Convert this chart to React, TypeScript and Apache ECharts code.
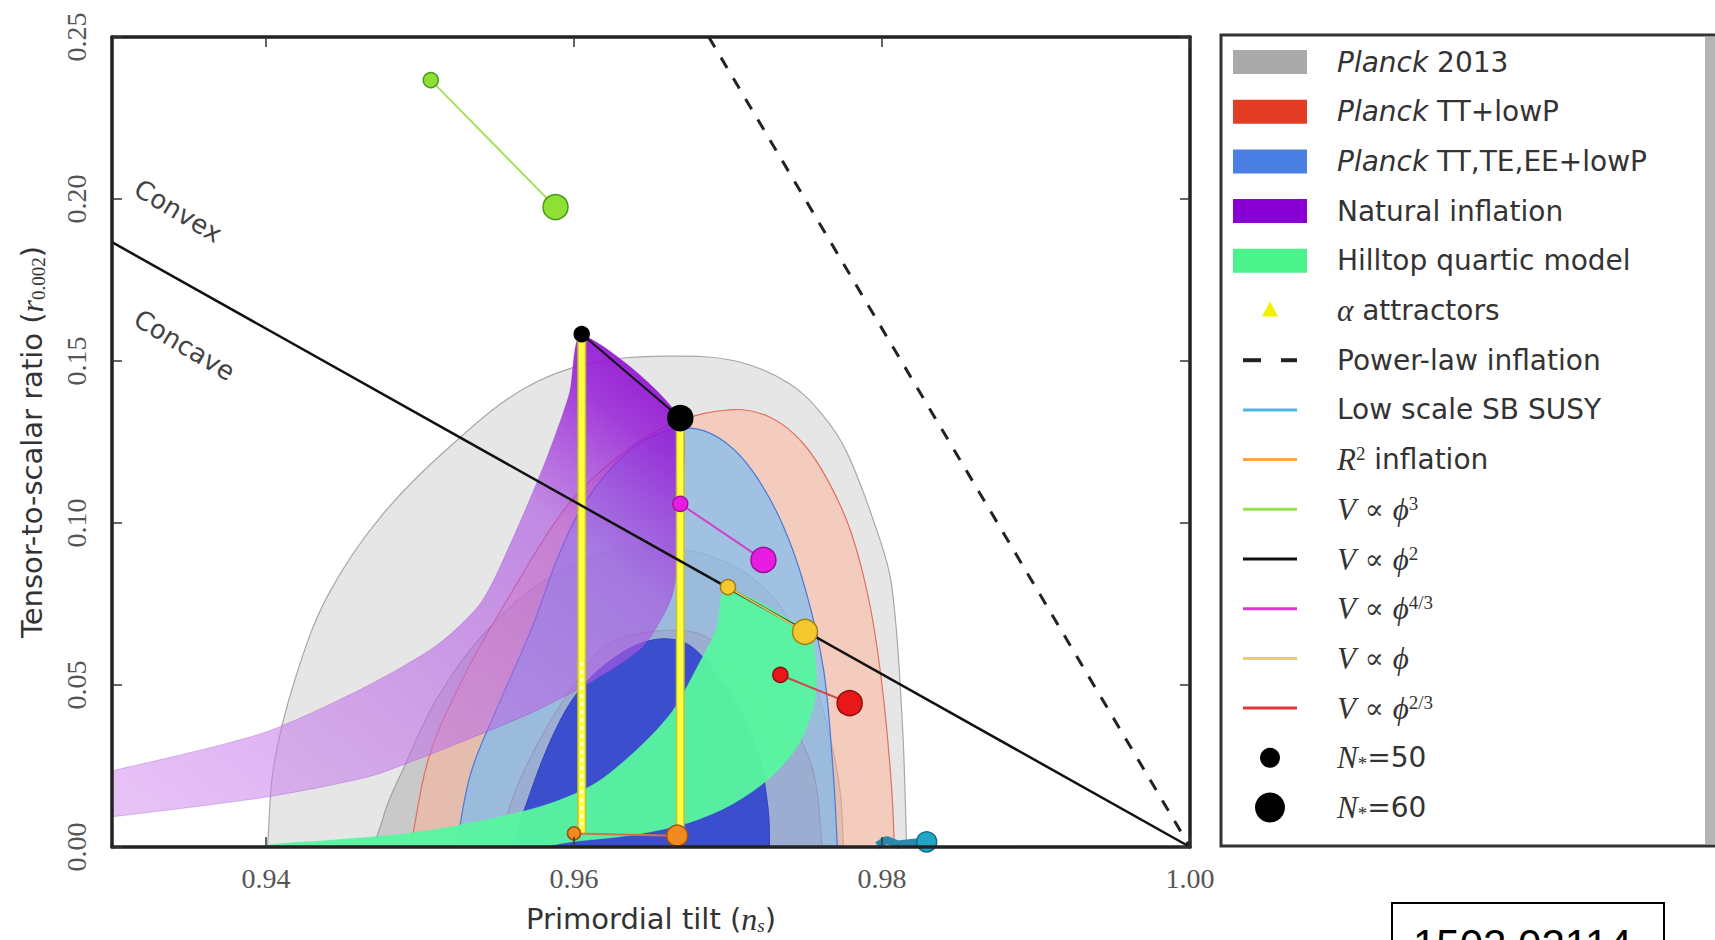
import React, { useEffect, useRef } from 'react';
import * as echarts from 'echarts';

// ---------- data ----------
const X_TICKS = [0.94, 0.96, 0.98, 1.0];
const Y_TICKS = [0, 0.05, 0.1, 0.15, 0.2, 0.25];

// Planck confidence contours [n_s, r]
const planck2013_95 = [[0.9400, -0.006], [0.9401, 0.0], [0.9405, 0.025], [0.9419, 0.052], [0.9440, 0.0775], [0.9476, 0.1028], [0.9526, 0.1264], [0.9568, 0.1416], [0.9611, 0.1494], [0.9660, 0.1515], [0.9705, 0.1500], [0.9740, 0.1430], [0.9762, 0.133], [0.9777, 0.122], [0.9795, 0.100], [0.9806, 0.0815], [0.9813, 0.040], [0.9816, 0.0], [0.9816, -0.006]];
const planck2013_68 = [[0.9473, -0.006], [0.9476, 0.009], [0.9490, 0.025], [0.9510, 0.045], [0.9540, 0.065], [0.9580, 0.082], [0.9630, 0.092], [0.9670, 0.092], [0.9710, 0.085], [0.9740, 0.070], [0.9760, 0.045], [0.9772, 0.020], [0.9775, 0.0], [0.9775, -0.006]];
const planckTT_95 = [[0.9492, -0.006], [0.9494, 0.0], [0.9506, 0.028], [0.9530, 0.054], [0.9555, 0.075], [0.9595, 0.105], [0.9630, 0.121], [0.9665, 0.131], [0.9703, 0.135], [0.9728, 0.1325], [0.9748, 0.125], [0.9765, 0.113], [0.9780, 0.097], [0.9792, 0.075], [0.9800, 0.050], [0.9806, 0.020], [0.9808, 0.0], [0.9808, -0.006]];
const planckTT_68 = [[0.9550, -0.006], [0.9552, 0.002], [0.9563, 0.0185], [0.9580, 0.035], [0.9600, 0.050], [0.9620, 0.062], [0.9650, 0.0665], [0.9680, 0.066], [0.9700, 0.060], [0.9725, 0.048], [0.9744, 0.036], [0.9756, 0.022], [0.9761, 0.0], [0.9761, -0.006]];
const planckTTTEEE_95 = [[0.9524, -0.006], [0.9524, 0.0], [0.9533, 0.0228], [0.9552, 0.045], [0.9573, 0.068], [0.9590, 0.090], [0.9608, 0.107], [0.9635, 0.122], [0.9660, 0.1285], [0.9680, 0.129], [0.9698, 0.125], [0.9716, 0.116], [0.9735, 0.100], [0.9750, 0.080], [0.9762, 0.055], [0.9768, 0.025], [0.9771, 0.0], [0.9771, -0.006]];
const planckTTTEEE_68 = [[0.9560, -0.006], [0.9562, 0.003], [0.9567, 0.0105], [0.9584, 0.032], [0.9602, 0.0475], [0.9625, 0.058], [0.9650, 0.0638], [0.9672, 0.063], [0.9690, 0.055], [0.9708, 0.042], [0.9720, 0.028], [0.9726, 0.012], [0.9727, 0.0], [0.9727, -0.006]];

// model regions
const naturalInflation = [[0.9280, 0.0220], [0.9300, 0.0235], [0.9398, 0.0352], [0.9462, 0.0488], [0.9511, 0.0623], [0.9540, 0.0757], [0.9561, 0.096], [0.9582, 0.1197], [0.9597, 0.140], [0.9605, 0.158], [0.9669, 0.132], [0.9668, 0.100], [0.9664, 0.078], [0.9645, 0.062], [0.9615, 0.052], [0.9575, 0.042], [0.9530, 0.033], [0.9498, 0.027], [0.9466, 0.0216], [0.9400, 0.0154], [0.9300, 0.0093], [0.9280, 0.0085]];
const hilltopQuartic = [[0.9699, 0.0793], [0.9751, 0.0664], [0.97565, 0.0589], [0.97565, 0.0454], [0.9746, 0.0318], [0.9728, 0.0217], [0.9703, 0.0133], [0.9675, 0.0076], [0.9639, 0.0038], [0.9597, 0.0015], [0.9550, -0.002], [0.9450, -0.002], [0.9398, -0.002], [0.9398, 0.0003], [0.9440, 0.0020], [0.9497, 0.0045], [0.9547, 0.0088], [0.9585, 0.0135], [0.9615, 0.0200], [0.9643, 0.0310], [0.9664, 0.0420], [0.9680, 0.0555], [0.96925, 0.0673]];

// lines
const convexConcave = [[0.93, 0.18667], [1.0, 0.0]];
const powerLaw = [[0.96875, 0.25], [1.0, 0.0]];
const alphaLeft = [[0.9605, 0.158], [0.9605, 0.004]];
const alphaLeftDots = [[0.9605, 0.057], [0.9605, 0.006]];
const alphaRight = [[0.9669, 0.132], [0.9669, 0.0035]];

// model predictions: [N=50, N=60]
const phi3 = [[0.9507, 0.2367], [0.9588, 0.1975]];
const phi2 = [[0.9605, 0.1583], [0.9669, 0.1324]];
const phi43 = [[0.9669, 0.1059], [0.9723, 0.0886]];
const phi1 = [[0.9700, 0.0802], [0.9750, 0.0664]];
const phi23 = [[0.9734, 0.0531], [0.9779, 0.0444]];
const r2 = [[0.9600, 0.0042], [0.9667, 0.0035]];
const susy = [[0.9797, 0.0004], [0.9803, 0.0022], [0.9810, 0.0008], [0.9818, 0.0012], [0.9829, 0.0016]];

const annotationPos = [[0.9343, 0.1963], [0.9347, 0.1549]];
const annotationText = ['Convex', 'Concave'];

const legendLabels = [
  '{it|Planck} 2013',
  '{it|Planck} TT+lowP',
  '{it|Planck} TT,TE,EE+lowP',
  'Natural inflation',
  'Hilltop quartic model',
  '{m|α} attractors',
  'Power-law inflation',
  'Low scale SB SUSY',
  '{m|R}{sup|2} inflation',
  '{m|V} {r|∝} {m|ϕ}{sup|3}',
  '{m|V} {r|∝} {m|ϕ}{sup|2}',
  '{m|V} {r|∝} {m|ϕ}{sup|4/3}',
  '{m|V} {r|∝} {m|ϕ}',
  '{m|V} {r|∝} {m|ϕ}{sup|2/3}',
  '{m|N}{sub|*}=50',
  '{m|N}{sub|*}=60',
];
const legendKeys = [
  { k: 'rect', c: '#aaaaaa' },
  { k: 'rect', c: '#e33d25' },
  { k: 'rect', c: '#4a7fe3' },
  { k: 'rect', c: '#8a00d4' },
  { k: 'rect', c: '#4cf28c' },
  { k: 'tri', c: '#f0f000' },
  { k: 'dash', c: '#222222' },
  { k: 'line', c: '#50b8e0' },
  { k: 'line', c: '#f0a848' },
  { k: 'line', c: '#98e050' },
  { k: 'line', c: '#111111' },
  { k: 'line', c: '#d838d0' },
  { k: 'line', c: '#e8cc70' },
  { k: 'line', c: '#e03838' },
  { k: 'dot', c: '#000000', r: 10 },
  { k: 'dot', c: '#000000', r: 15 },
];

const SANS = "'DejaVu Sans', sans-serif";
const SERIF = "'Liberation Serif', 'DejaVu Serif', serif";
const TXT = '#333333';

function region(name: string, pts: number[][], fill: any, stroke: string, lineWidth: number, smooth = 0.35) {
  return {
    type: 'custom',
    name,
    silent: true,
    clip: true,
    data: pts,
    renderItem: (params: any, api: any) => {
      if (params.dataIndex !== 0) return null;
      return {
        type: 'polygon',
        shape: { points: pts.map((p) => api.coord(p)), smooth },
        style: { fill, stroke, lineWidth },
      };
    },
  };
}

function lineSeries(name: string, data: number[][], color: string, width: number, type: any = 'solid') {
  return {
    type: 'line',
    name,
    data,
    silent: true,
    showSymbol: false,
    symbol: 'none',
    lineStyle: { color, width, type },
  };
}

function modelSeries(name: string, data: number[][], lineColor: string, fill: string, edge: string, small = 15, large = 25) {
  return {
    type: 'line',
    name,
    data,
    silent: true,
    symbol: 'circle',
    symbolSize: (_v: any, p: any) => (p.dataIndex === 0 ? small : large),
    lineStyle: { color: lineColor, width: 2 },
    itemStyle: { color: fill, borderColor: edge, borderWidth: 1.5 },
  };
}

export default function App() {
  const ref = useRef<HTMLDivElement>(null);
  useEffect(() => {
    if (!ref.current) return;
    const chart = echarts.init(ref.current, null, { renderer: 'svg' });

    const purpleFill = new echarts.graphic.LinearGradient(1, 0, 0, 1, [
      { offset: 0, color: 'rgba(136,0,204,0.97)' },
      { offset: 0.14, color: 'rgba(150,30,215,0.85)' },
      { offset: 0.3, color: 'rgba(170,80,225,0.62)' },
      { offset: 1, color: 'rgba(215,150,240,0.55)' },
    ]);

    const legendRich = {
      it: { fontFamily: SANS, fontStyle: 'italic', fontSize: 28, fill: TXT },
      m: { fontFamily: SERIF, fontStyle: 'italic', fontSize: 31, fill: TXT },
      r: { fontFamily: SERIF, fontSize: 28, fill: TXT },
      sup: { fontFamily: SERIF, fontSize: 19, fill: TXT, verticalAlign: 'top' },
      sub: { fontFamily: SERIF, fontSize: 19, fill: TXT, verticalAlign: 'bottom' },
    };

    const graphics: any[] = [
      { type: 'rect', z: 10, shape: { x: 1221, y: 35, width: 600, height: 811 }, style: { fill: '#ffffff', stroke: '#333333', lineWidth: 3 } },
      { type: 'rect', z: 11, shape: { x: 1705, y: 37, width: 10, height: 807 }, style: { fill: '#b4b4b4' } },
      { type: 'rect', z: 10, shape: { x: 1392, y: 903, width: 272, height: 60 }, style: { fill: '#ffffff', stroke: '#000000', lineWidth: 2 } },
      { type: 'text', z: 11, x: 1413, y: 923, style: { text: '1502.02114', fontFamily: "'Liberation Sans', sans-serif", fontSize: 42, fill: '#000000', align: 'left', verticalAlign: 'top' } },
    ];
    legendLabels.forEach((label, i) => {
      const y = 62 + i * 49.7;
      const key = legendKeys[i];
      if (key.k === 'rect') {
        graphics.push({ type: 'rect', z: 11, shape: { x: 1233, y: y - 12, width: 74, height: 24 }, style: { fill: key.c } });
      } else if (key.k === 'line') {
        graphics.push({ type: 'line', z: 11, shape: { x1: 1243, y1: y, x2: 1297, y2: y }, style: { stroke: key.c, lineWidth: 3 } });
      } else if (key.k === 'dash') {
        graphics.push({ type: 'line', z: 11, shape: { x1: 1243, y1: y, x2: 1261, y2: y }, style: { stroke: key.c, lineWidth: 4 } });
        graphics.push({ type: 'line', z: 11, shape: { x1: 1281, y1: y, x2: 1297, y2: y }, style: { stroke: key.c, lineWidth: 4 } });
      } else if (key.k === 'tri') {
        graphics.push({ type: 'polygon', z: 11, shape: { points: [[1270, y - 9], [1262, y + 6], [1278, y + 6]] }, style: { fill: key.c } });
      } else if (key.k === 'dot') {
        graphics.push({ type: 'circle', z: 11, shape: { cx: 1270, cy: y, r: (key as any).r }, style: { fill: key.c } });
      }
      graphics.push({
        type: 'text', z: 11, x: 1337, y,
        style: { text: label, fontFamily: SANS, fontSize: 28, fill: TXT, align: 'left', verticalAlign: 'middle', rich: legendRich },
      });
    });

    const axisCommon = {
      type: 'value',
      z: 10,
      splitLine: { show: false },
      axisLine: { show: true, onZero: false, lineStyle: { color: '#222222', width: 3.5 } },
    };
    const tickStyle = { inside: true, length: 10, lineStyle: { color: '#333333', width: 1.5 } };
    const labelFont = { fontFamily: SERIF, fontSize: 28, color: '#555555' };
    const titleRich = (italicSub: boolean) => ({
      a: { fontFamily: SANS, fontSize: 29, color: TXT },
      i: { fontFamily: SERIF, fontStyle: 'italic', fontSize: 32, color: TXT },
      s: { fontFamily: SERIF, fontStyle: italicSub ? 'italic' : 'normal', fontSize: 19, color: TXT, verticalAlign: 'bottom' },
    });

    const option: any = {
      animation: false,
      backgroundColor: '#ffffff',
      grid: { left: 112, top: 37, width: 1078, height: 810 },
      xAxis: [
        {
          ...axisCommon,
          position: 'bottom',
          min: 0.93,
          max: 1.0,
          axisTick: { ...tickStyle, customValues: X_TICKS },
          axisLabel: { ...labelFont, customValues: X_TICKS, margin: 17, formatter: (v: number) => v.toFixed(2) },
          name: '{a|Primordial tilt (}{i|n}{s|s}{a|)}',
          nameLocation: 'middle',
          nameGap: 56,
          nameTextStyle: { rich: titleRich(true) },
        },
        {
          ...axisCommon,
          position: 'top',
          min: 0.93,
          max: 1.0,
          axisTick: { ...tickStyle, customValues: X_TICKS },
          axisLabel: { show: false },
        },
      ],
      yAxis: [
        {
          ...axisCommon,
          position: 'left',
          min: 0,
          max: 0.25,
          interval: 0.05,
          axisTick: { ...tickStyle, customValues: Y_TICKS },
          axisLabel: { ...labelFont, customValues: Y_TICKS, rotate: 90, margin: 22, formatter: (v: number) => v.toFixed(2) },
          name: '{a|Tensor-to-scalar ratio (}{i|r}{s|0.002}{a|)}',
          nameLocation: 'middle',
          nameGap: 64,
          nameTextStyle: { rich: titleRich(false) },
        },
        {
          ...axisCommon,
          position: 'right',
          min: 0,
          max: 0.25,
          interval: 0.05,
          axisTick: { ...tickStyle, customValues: Y_TICKS },
          axisLabel: { show: false },
        },
      ],
      graphic: graphics,
      series: [
        region('Planck 2013 95%', planck2013_95, '#e6e6e6', '#a8a8a8', 1.2),
        region('Planck 2013 68%', planck2013_68, '#c9c9c9', '#a0a0a0', 1.2),
        region('Planck TT+lowP 95%', planckTT_95, 'rgba(255,178,150,0.5)', '#e07060', 1.2),
        region('Planck TT+lowP 68%', planckTT_68, 'rgba(228,130,115,0.55)', '#d06a5c', 1.2),
        region('Planck TT,TE,EE+lowP 95%', planckTTTEEE_95, 'rgba(110,185,250,0.62)', '#4a78d8', 1.2),
        region('Planck TT,TE,EE+lowP 68%', planckTTTEEE_68, 'rgba(52,72,205,0.93)', '#3040c0', 1),
        region('Natural inflation', naturalInflation, purpleFill, 'rgba(140,40,200,0.35)', 0.8, 0.25),
        region('Hilltop quartic model', hilltopQuartic, 'rgba(88,245,160,0.96)', 'rgba(88,245,160,0.96)', 0.5, 0.3),
        lineSeries('alpha left edge', alphaLeft, '#c8c030', 9),
        lineSeries('alpha attractors N=50', alphaLeft, '#ffff40', 6),
        lineSeries('alpha dots', alphaLeftDots, '#ffffff', 3, [3, 5]),
        lineSeries('alpha right edge', alphaRight, '#c8c030', 9),
        lineSeries('alpha attractors N=60', alphaRight, '#ffff40', 6),
        lineSeries('Convex/concave', convexConcave, '#111111', 2.5),
        lineSeries('Power-law inflation', powerLaw, '#222222', 3, [12, 12]),
        {
          type: 'line',
          name: 'Low scale SB SUSY',
          data: susy,
          silent: true,
          symbol: 'circle',
          symbolSize: (_v: any, p: any) => (p.dataIndex === susy.length - 1 ? 20 : 0),
          lineStyle: { color: '#2a88aa', width: 8 },
          itemStyle: { color: '#22a6c6', borderColor: '#13708a', borderWidth: 1.5 },
        },
        modelSeries('R2 inflation', r2, '#d8704a', '#f28a22', '#a05010', 13, 21),
        modelSeries('V ∝ φ^3', phi3, '#a8e060', '#8ee034', '#4c9a1c'),
        modelSeries('V ∝ φ^2', phi2, '#111111', '#000000', '#000000'),
        modelSeries('V ∝ φ^4/3', phi43, '#d040c8', '#e81ce0', '#a0109a'),
        modelSeries('V ∝ φ', phi1, '#d8c060', '#f5c830', '#a08010'),
        modelSeries('V ∝ φ^2/3', phi23, '#d04848', '#e81818', '#901010'),
        {
          type: 'custom',
          name: 'annotations',
          silent: true,
          data: annotationPos,
          renderItem: (params: any, api: any) => {
            const p = api.coord([api.value(0), api.value(1)]);
            return {
              type: 'text',
              x: p[0],
              y: p[1],
              rotation: -0.54,
              style: { text: annotationText[params.dataIndex], fontFamily: SANS, fontSize: 26, fill: '#444444', align: 'center', verticalAlign: 'middle' },
            };
          },
        },
      ],
    };
    chart.setOption(option);
    return () => chart.dispose();
  }, []);
  return <div ref={ref} style={{ position: 'fixed', left: 0, top: 0, width: 1715, height: 940, background: '#fff' }} />;
}
